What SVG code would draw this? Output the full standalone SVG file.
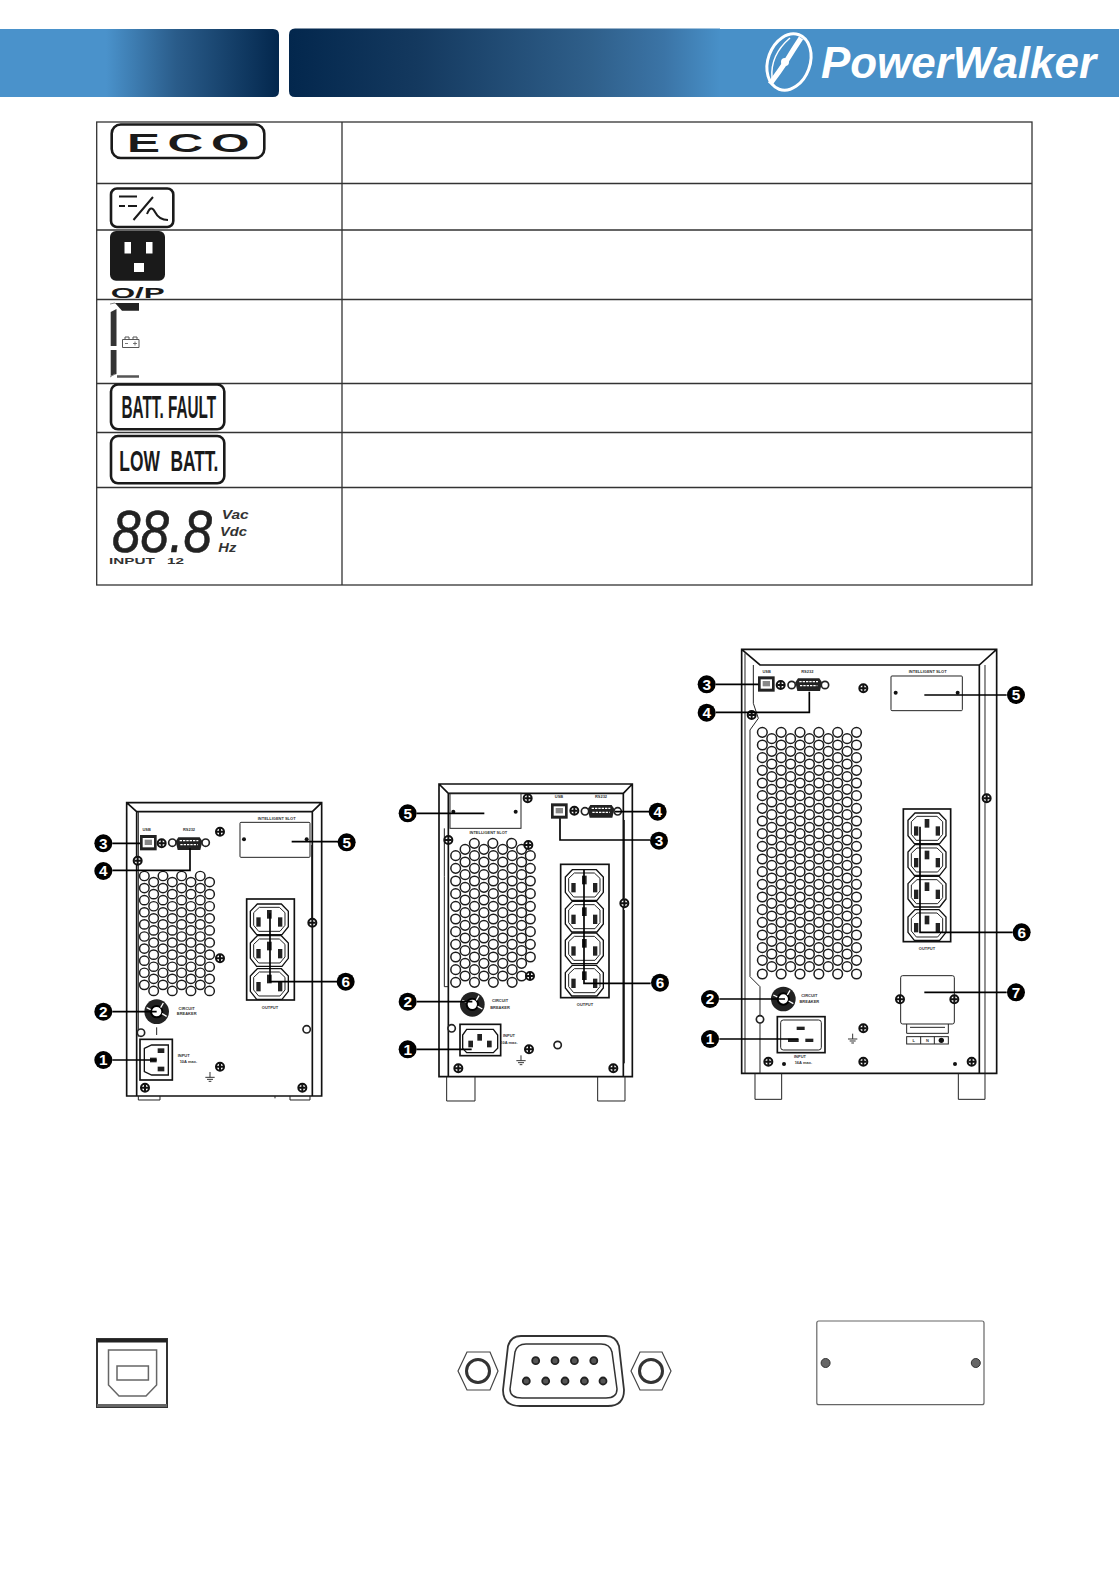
<svg xmlns="http://www.w3.org/2000/svg" width="1119" height="1588" viewBox="0 0 1119 1588">
<style>
text{font-family:"Liberation Sans",Arial,sans-serif}
.tl{fill:none;stroke:#333;stroke-width:1.300}
.bd{fill:#fff;stroke:#1a1a1a;stroke-width:2.600}
.bt{font-weight:700;fill:#1a1a1a}
.o{fill:none;stroke:#111;stroke-width:5}
.i{fill:none;stroke:#222;stroke-width:3}
.w{fill:#fff;stroke:#111;stroke-width:4}
.ld{fill:none;stroke:#000;stroke-width:5}
.mk{fill:#000}
.mt{fill:#fff;font-weight:700;font-size:46px;text-anchor:middle}
.lb{fill:#333;font-size:12px;font-weight:700;text-anchor:middle}
.p{fill:#222}
.v{fill:#fff;stroke:#1c1c1c;stroke-width:4.500}
</style>
<defs>
<linearGradient id="gL" gradientUnits="userSpaceOnUse" x1="0" y1="0" x2="279" y2="0"><stop offset="0" stop-color="#4a92cb"/><stop offset=".38" stop-color="#4a92cb"/><stop offset=".63" stop-color="#2a5c8a"/><stop offset="1" stop-color="#03274d"/></linearGradient>
<linearGradient id="gR" gradientUnits="userSpaceOnUse" x1="289" y1="0" x2="720" y2="0"><stop offset="0" stop-color="#03274d"/><stop offset=".3" stop-color="#14395f"/><stop offset=".7" stop-color="#2f5f8a"/><stop offset=".87" stop-color="#3b74a6"/><stop offset="1" stop-color="#4890c8"/></linearGradient>
<g id="vp"><circle class="v" r="14.500"/><circle class="v" cx="28.250" cy="19" r="14.500"/></g>
<g id="vr4"><use href="#vp"/><use href="#vp" x="56.500"/><use href="#vp" x="113"/><use href="#vp" x="169.500"/></g>
<g id="vr5"><use href="#vr4"/><use href="#vp" x="226"/><circle class="v" cx="282.500" r="14.500"/></g>
<g id="outlet">
<path class="w" d="M-36-46H36L57-24V22L38 46H-38L-57 22V-24Z" stroke-width="6"/>
<path class="i" d="M-30-36H30L47-20V18L32 36H-32L-47 18V-20Z" stroke-width="4"/>
<rect class="p" x="-39" y="-6" width="13" height="28"/><rect class="p" x="26" y="-6" width="13" height="28"/><rect class="p" x="-7" y="-28" width="14" height="26"/>
</g>
<g id="screw"><circle r="12" fill="#fff" stroke="#111" stroke-width="6"/><path d="M-10 0H10M0-10V10" stroke="#111" stroke-width="6"/></g>
<g id="sm"><circle r="6" fill="#111"/></g>
<g id="ring"><circle r="11" fill="#fff" stroke="#222" stroke-width="5"/></g>
<g id="brk"><circle r="37" fill="#222"/><circle r="17" fill="#fff" stroke="#000" stroke-width="6"/><path d="M-30-12L-18-6M20-26L12-12M30 14L16 6" stroke="#fff" stroke-width="4"/></g>
<g id="gnd"><path d="M0-14V2M-14 2H14M-9 8H9M-4 14H4" stroke="#333" stroke-width="3" fill="none"/></g>
<g id="usbS"><rect width="50" height="46" fill="#222"/><rect x="8" y="9" width="34" height="28" fill="#fff"/><path d="M14 14H36V30H14Z" fill="#888"/></g>
<g id="dsubP"><path d="M8 0H72L80 12L74 38H6L0 12Z" fill="#222"/><path d="M12 10H68M14 22H66" stroke="#fff" stroke-width="4" stroke-dasharray="7 3"/></g>
</defs>

<g id="header">
<path d="M0 29H273Q279 29 279 35V91Q279 97 273 97H0Z" fill="url(#gL)"/>
<path d="M295 28.500H720V97H295Q289 97 289 91V35Q289 28.500 295 28.500Z" fill="url(#gR)"/>
<rect x="719.500" y="29" width="399.500" height="68" fill="#4890c8"/>
<g id="logo" fill="none" stroke="#fff">
<ellipse cx="789" cy="62" rx="21" ry="29" transform="rotate(20 789 62)" stroke-width="3"/>
<path d="M772 78Q770 55 790 38" stroke-width="1.500"/>
<path d="M801 38Q793 50 787 60Q779 72 770 84" stroke-width="5"/>
<circle cx="785" cy="62" r="4" fill="#fff" stroke="none"/>
</g>
<text x="821" y="78" font-size="44" font-weight="700" font-style="italic" fill="#fff" textLength="275" lengthAdjust="spacingAndGlyphs">PowerWalker</text>
</g>

<g id="table">
<rect class="tl" x="96.700" y="122" width="935.300" height="463"/>
<path class="tl" d="M342 122V585M96.700 183.500H1032M96.700 230H1032M96.700 299.500H1032M96.700 383.500H1032M96.700 432.500H1032M96.700 487.500H1032"/>
</g>

<g id="icon-eco">
<rect class="bd" x="111.700" y="124.500" width="152.600" height="33.500" rx="9" stroke-width="3.200"/>
<text class="bt" x="127" y="152" font-size="26" letter-spacing="4" textLength="130" lengthAdjust="spacingAndGlyphs">ECO</text>
</g>
<g id="icon-inverter">
<rect class="bd" x="111" y="188.500" width="62.300" height="38.500" rx="6"/>
<path d="M119 196.500H137M119 206H125M128 206H137M133.500 220L153 197" fill="none" stroke="#1a1a1a" stroke-width="2"/>
<path d="M147 214Q151 204 155 212T168 220" fill="none" stroke="#1a1a1a" stroke-width="2"/>
</g>
<g id="icon-output">
<rect x="110" y="231" width="55" height="49.700" rx="6" fill="#1a1a1a"/>
<rect x="124.500" y="242" width="6.500" height="11.500" fill="#fff"/><rect x="146" y="242" width="6.500" height="11.500" fill="#fff"/><rect x="134" y="263" width="10" height="9" fill="#fff"/>
<text class="bt" x="110.700" y="297.700" font-size="15.500" textLength="54" lengthAdjust="spacingAndGlyphs">O/P</text>
</g>
<g id="icon-battery">
<path d="M115 303H139V310.700H122Z" fill="#222"/>
<path d="M110.700 312L116.500 309V346H110.700ZM110.700 350H116.500V374L110.700 376Z" fill="#333"/>
<path d="M117 376.500H139" stroke="#555" stroke-width="2.500"/>
<path d="M110 304L115 303M110 377L115 374" stroke="#888" stroke-width="1"/>
<path d="M122.500 339.500H139V347.500H122.500ZM125 339.500V337H129V339.500M133 339.500V337H137V339.500" fill="none" stroke="#555" stroke-width="1"/>
<path d="M125 343.500H128M133 343.500H137M135 341.500V345.500" stroke="#555" stroke-width=".8"/>
</g>
<g id="icon-batt-fault">
<rect class="bd" x="111" y="384.500" width="113.300" height="44.800" rx="7"/>
<text class="bt" x="121.500" y="417.700" font-size="31" textLength="94.500" lengthAdjust="spacingAndGlyphs">BATT. FAULT</text>
</g>
<g id="icon-low-batt">
<rect class="bd" x="111" y="436" width="113.300" height="47.300" rx="7"/>
<text class="bt" x="119.300" y="470.700" font-size="30" word-spacing="10" textLength="99" lengthAdjust="spacingAndGlyphs">LOW BATT.</text>
</g>
<g id="icon-display">
<text x="112" y="551.700" font-size="60" font-style="italic" fill="#222" stroke="#222" stroke-width=".6" textLength="100" lengthAdjust="spacingAndGlyphs">88.8</text>
<g font-size="12.500" font-weight="700" font-style="italic" fill="#333">
<text x="221.700" y="519" textLength="27" lengthAdjust="spacingAndGlyphs">Vac</text><text x="220" y="535.500" textLength="27" lengthAdjust="spacingAndGlyphs">Vdc</text><text x="218.300" y="551.700" textLength="18" lengthAdjust="spacingAndGlyphs">Hz</text>
</g>
<text x="109" y="564.300" font-size="9.500" font-weight="700" fill="#333" word-spacing="5" textLength="75" lengthAdjust="spacingAndGlyphs">INPUT 12</text>
</g>

<g id="ups-small" transform="translate(85 790) scale(.33333)">
<path class="o" d="M125 38H710V918H125ZM125 38L155 65H682L710 38M155 65V918M682 65V918"/>
<path class="i" d="M160 65V245M160 245V740M680 165V390"/>
<path d="M160 918V930H225V918M570 918V925M615 918V930H675V918" class="i"/>
<g transform="translate(178 258) scale(.99 .955)">
<use href="#vr4"/><use href="#vr4" y="38"/><use href="#vr4" y="76"/><use href="#vr4" y="114"/><use href="#vr4" y="152"/><use href="#vr4" y="190"/><use href="#vr4" y="228"/><use href="#vr4" y="266"/><use href="#vr4" y="304"/><use href="#vr4" y="342"/>
</g>
<use href="#usbS" x="165" y="135"/>
<text class="lb" x="185" y="122">USB</text>
<use href="#dsubP" x="272" y="142"/>
<text class="lb" x="312" y="122">RS232</text>
<use href="#ring" x="262" y="158"/><use href="#ring" x="362" y="158"/>
<use href="#screw" x="230" y="160"/><use href="#screw" x="405" y="125"/><use href="#screw" x="158" y="212"/>
<use href="#screw" x="682" y="398"/><use href="#screw" x="405" y="505"/><use href="#screw" x="180" y="893"/><use href="#screw" x="652" y="893"/><use href="#screw" x="405" y="830"/>
<use href="#ring" x="665" y="718"/><use href="#ring" x="168" y="728"/>
<rect class="i" x="465" y="97" width="210" height="105" rx="3"/>
<text class="lb" x="575" y="90">INTELLIGENT SLOT</text>
<use href="#sm" x="477" y="148"/><use href="#sm" x="665" y="148"/>
<rect class="o" x="485" y="327" width="143" height="303"/>
<use href="#outlet" x="553" y="388"/><use href="#outlet" x="553" y="483"/><use href="#outlet" x="553" y="582"/>
<text class="lb" x="555" y="658">OUTPUT</text>
<use href="#brk" x="215" y="665"/>
<path d="M215 712V735" stroke="#222" stroke-width="3"/>
<text class="lb" x="305" y="660">CIRCUIT</text><text class="lb" x="305" y="676">BREAKER</text>
<rect class="o" x="165" y="748" width="97" height="122"/>
<path class="w" d="M178 775L200 765H250V855H200L178 845Z"/>
<rect class="p" x="218" y="775" width="20" height="14"/><rect class="p" x="218" y="830" width="20" height="14"/><rect class="p" x="195" y="803" width="20" height="14"/>
<text class="lb" x="296" y="802">INPUT</text><text class="lb" x="310" y="818">10A max.</text>
<use href="#gnd" x="375" y="860"/>
</g>

<g id="ups-medium" transform="translate(385 770) scale(.33333)">
<path class="o" d="M162 42H742V920H162ZM162 42L190 70H715L742 42M190 70V920M715 70V920"/>
<path class="i" d="M178 175V320M178 320V650H190M718 150V385M718 420V880"/>
<path class="i" d="M185 920V993H270V920M638 920V993H720V920"/>
<g transform="translate(212 257)">
<circle class="v" cx="56" cy="-37" r="14.500"/><circle class="v" cx="111.500" cy="-37" r="14.500"/><circle class="v" cx="168" cy="-37" r="14.500"/>
<circle class="v" cx="28.250" cy="-19" r="14.500"/><circle class="v" cx="84.750" cy="-19" r="14.500"/><circle class="v" cx="141.250" cy="-19" r="14.500"/><circle class="v" cx="197.750" cy="-19" r="14.500"/>
<use href="#vr4"/><use href="#vr4" y="38"/><use href="#vr4" y="76"/><use href="#vr4" y="114"/><use href="#vr4" y="152"/><use href="#vr4" y="190"/><use href="#vr4" y="228"/><use href="#vr4" y="266"/><use href="#vr4" y="304"/><use href="#vr4" y="342"/>
<circle class="v" cx="224" r="14.500"/><circle class="v" cx="224" cy="38" r="14.500"/><circle class="v" cx="224" cy="76" r="14.500"/><circle class="v" cx="224" cy="114" r="14.500"/><circle class="v" cx="224" cy="152" r="14.500"/><circle class="v" cx="224" cy="190" r="14.500"/><circle class="v" cx="224" cy="228" r="14.500"/><circle class="v" cx="224" cy="266" r="14.500"/><circle class="v" cx="224" cy="304" r="14.500"/><circle class="v" cx="0" cy="380" r="14.500"/><circle class="v" cx="56.500" cy="380" r="14.500"/><circle class="v" cx="113" cy="380" r="14.500"/><circle class="v" cx="169.500" cy="380" r="14.500"/>
</g>
<rect class="i" x="195" y="70" width="213" height="105" fill="#fff"/>
<use href="#sm" x="205" y="125"/><use href="#sm" x="392" y="125"/>
<text class="lb" x="310" y="192">INTELLIGENT SLOT</text>
<use href="#usbS" x="498" y="100"/>
<text class="lb" x="522" y="85">USB</text>
<use href="#dsubP" x="608" y="105"/>
<text class="lb" x="648" y="85">RS232</text>
<use href="#screw" x="568" y="122"/><use href="#ring" x="600" y="124"/><use href="#ring" x="698" y="124"/>
<use href="#screw" x="428" y="85"/><use href="#screw" x="190" y="210"/><use href="#screw" x="430" y="225"/><use href="#screw" x="435" y="618"/>
<use href="#screw" x="718" y="400"/><use href="#screw" x="432" y="838"/><use href="#screw" x="220" y="895"/><use href="#screw" x="685" y="895"/>
<use href="#ring" x="200" y="775"/><use href="#ring" x="518" y="825"/>
<rect class="o" x="527" y="283" width="145" height="400"/>
<use href="#outlet" x="598" y="345"/><use href="#outlet" x="598" y="440"/><use href="#outlet" x="598" y="535"/><use href="#outlet" x="598" y="632"/>
<text class="lb" x="600" y="708">OUTPUT</text>
<use href="#brk" x="262" y="703"/>
<text class="lb" x="345" y="697">CIRCUIT</text><text class="lb" x="345" y="716">BREAKER</text>
<rect class="o" x="225" y="763" width="122" height="94"/>
<path class="w" d="M245 778H325L338 795V835L325 848H245L233 835V795Z"/>
<rect class="p" x="277" y="792" width="14" height="20"/><rect class="p" x="250" y="812" width="14" height="20"/><rect class="p" x="306" y="812" width="14" height="20"/>
<text class="lb" x="372" y="802">INPUT</text><text class="lb" x="372" y="822">10A max.</text>
<use href="#gnd" x="408" y="870"/>
</g>

<g id="ups-large" transform="translate(690 640) scale(.33333)">
<path class="o" d="M155 28H920V1300H155ZM155 28L210 75H868L920 28M868 75V1300"/>
<path class="i" d="M165 40V1300M190 75V190L205 235L180 270V1010L210 1040V1300M885 75V1300"/>
<path class="i" d="M195 1300V1378H275V1300M805 1300V1378H885V1300"/>
<g transform="translate(217 277)">
<use href="#vr5"/><use href="#vr5" y="38"/><use href="#vr5" y="76"/><use href="#vr5" y="114"/><use href="#vr5" y="152"/><use href="#vr5" y="190"/><use href="#vr5" y="228"/><use href="#vr5" y="266"/><use href="#vr5" y="304"/><use href="#vr5" y="342"/><use href="#vr5" y="380"/><use href="#vr5" y="418"/><use href="#vr5" y="456"/><use href="#vr5" y="494"/><use href="#vr5" y="532"/><use href="#vr5" y="570"/><use href="#vr5" y="608"/><use href="#vr5" y="646"/><use href="#vr5" y="684"/>
<circle class="v" cy="725" r="14.500"/><circle class="v" cx="56.500" cy="725" r="14.500"/><circle class="v" cx="113" cy="725" r="14.500"/><circle class="v" cx="169.500" cy="725" r="14.500"/><circle class="v" cx="226" cy="725" r="14.500"/><circle class="v" cx="282.500" cy="725" r="14.500"/>
</g>
<use href="#usbS" x="204" y="109"/>
<text class="lb" x="230" y="100">USB</text>
<use href="#dsubP" x="316" y="115"/>
<text class="lb" x="352" y="100">RS232</text>
<use href="#screw" x="272" y="135"/><use href="#ring" x="305" y="135"/><use href="#ring" x="405" y="135"/>
<use href="#screw" x="520" y="145"/><use href="#screw" x="185" y="225"/><use href="#screw" x="890" y="475"/><use href="#screw" x="520" y="1265"/><use href="#screw" x="235" y="1265"/><use href="#screw" x="845" y="1265"/><use href="#screw" x="520" y="1165"/>
<use href="#sm" x="282" y="1272"/><use href="#sm" x="795" y="1272"/><use href="#ring" x="210" y="1138"/>
<rect class="i" x="603" y="108" width="214" height="104" rx="3"/>
<text class="lb" x="713" y="100">INTELLIGENT SLOT</text>
<use href="#sm" x="617" y="158"/><use href="#sm" x="803" y="158"/>
<rect class="o" x="640" y="507" width="142" height="398"/>
<use href="#outlet" x="711" y="565"/><use href="#outlet" x="711" y="660"/><use href="#outlet" x="711" y="755"/><use href="#outlet" x="711" y="855"/>
<text class="lb" x="711" y="930">OUTPUT</text>
<rect class="i" x="632" y="1007" width="161" height="145" rx="6" fill="#fff"/>
<use href="#screw" x="630" y="1078"/><use href="#screw" x="793" y="1078"/>
<path class="i" d="M650 1152V1180H775V1152M660 1162H765"/>
<rect class="i" x="650" y="1190" width="125" height="22"/>
<path class="i" d="M692 1190V1212M733 1190V1212"/>
<text class="lb" x="671" y="1206">L</text><text class="lb" x="712" y="1206">N</text><circle cx="754" cy="1201" r="8" fill="#111"/>
<use href="#brk" x="280" y="1077"/>
<text class="lb" x="358" y="1072">CIRCUIT</text><text class="lb" x="358" y="1089">BREAKER</text>
<rect class="o" x="262" y="1130" width="143" height="108"/>
<rect class="i" x="272" y="1140" width="122" height="90" rx="8" fill="#fff"/>
<rect class="p" x="320" y="1160" width="24" height="10"/><rect class="p" x="294" y="1196" width="32" height="10"/><rect class="p" x="346" y="1196" width="24" height="10"/>
<text class="lb" x="330" y="1255">INPUT</text><text class="lb" x="340" y="1272">16A max.</text>
<use href="#gnd" x="488" y="1195"/>
</g>

<g id="connectors">
<g transform="translate(85 790) scale(.33333)">
<path class="ld" d="M82 160H165M82 241H315V175M620 155H760M555 370V575H760M82 665H215M82 810H215"/>
</g>
<g transform="translate(385 770) scale(.33333)">
<path class="ld" d="M95 130H298M690 125H795M525 145V210H795M597 300V640H797M95 695H262M95 838H260"/>
</g>
<g transform="translate(690 640) scale(.33333)">
<path class="ld" d="M77 133H205M77 217H358V155M703 165H950M690 560V877H968M703 1057H950M88 1077H285M88 1197H325"/>
</g>
</g>

<g id="markers-small" transform="translate(85 790) scale(.33333)">
<circle class="mk" cx="55" cy="160" r="27"/><text class="mt" x="55" y="176">3</text>
<circle class="mk" cx="55" cy="243" r="27"/><text class="mt" x="55" y="259">4</text>
<circle class="mk" cx="785" cy="157" r="27"/><text class="mt" x="785" y="173">5</text>
<circle class="mk" cx="782" cy="575" r="27"/><text class="mt" x="782" y="591">6</text>
<circle class="mk" cx="55" cy="665" r="27"/><text class="mt" x="55" y="681">2</text>
<circle class="mk" cx="55" cy="810" r="27"/><text class="mt" x="55" y="826">1</text>
</g>
<g id="markers-medium" transform="translate(385 770) scale(.33333)">
<circle class="mk" cx="68" cy="130" r="27"/><text class="mt" x="68" y="146">5</text>
<circle class="mk" cx="818" cy="125" r="27"/><text class="mt" x="818" y="141">4</text>
<circle class="mk" cx="822" cy="212" r="27"/><text class="mt" x="822" y="228">3</text>
<circle class="mk" cx="825" cy="638" r="27"/><text class="mt" x="825" y="654">6</text>
<circle class="mk" cx="68" cy="695" r="27"/><text class="mt" x="68" y="711">2</text>
<circle class="mk" cx="68" cy="838" r="27"/><text class="mt" x="68" y="854">1</text>
</g>
<g id="markers-large" transform="translate(690 640) scale(.33333)">
<circle class="mk" cx="50" cy="133" r="27"/><text class="mt" x="50" y="149">3</text>
<circle class="mk" cx="50" cy="218" r="27"/><text class="mt" x="50" y="234">4</text>
<circle class="mk" cx="978" cy="165" r="27"/><text class="mt" x="978" y="181">5</text>
<circle class="mk" cx="995" cy="877" r="27"/><text class="mt" x="995" y="893">6</text>
<circle class="mk" cx="978" cy="1057" r="27"/><text class="mt" x="978" y="1073">7</text>
<circle class="mk" cx="60" cy="1077" r="27"/><text class="mt" x="60" y="1093">2</text>
<circle class="mk" cx="60" cy="1197" r="27"/><text class="mt" x="60" y="1213">1</text>
</g>

<g id="usb-port">
<rect x="97" y="1339" width="70" height="68" fill="#fff" stroke="#333" stroke-width="2"/>
<rect x="97" y="1339" width="70" height="3.500" fill="#222"/><rect x="97" y="1404" width="70" height="3" fill="#666"/>
<path d="M108.500 1350H156.600V1385L146 1396H119L108.500 1385Z" fill="#fff" stroke="#666" stroke-width="1.500"/>
<rect x="117" y="1366" width="31.400" height="14" fill="#fff" stroke="#666" stroke-width="1.500"/>
</g>
<g id="serial-port">
<g fill="#fff" stroke="#444" stroke-width="1.200">
<path d="M467 1352H490L498 1371L490 1390H467L458 1371Z"/>
<path d="M640 1352H662L671 1371L662 1390H640L631 1371Z"/>
</g>
<circle cx="478" cy="1371" r="11.500" fill="none" stroke="#333" stroke-width="3"/>
<circle cx="651" cy="1371" r="11.500" fill="none" stroke="#333" stroke-width="3"/>
<path d="M521 1336H606Q616 1336 619 1346L624 1390Q624 1406 608 1406H520Q503 1406 503 1390L508 1346Q511 1336 521 1336Z" fill="#fff" stroke="#333" stroke-width="1.800"/>
<path d="M526 1344H601Q610 1344 612 1352L617 1389Q617 1398 606 1398H522Q510 1398 510 1389L515 1352Q517 1344 526 1344Z" fill="none" stroke="#333" stroke-width="1.500"/>
<g fill="#555" stroke="#222" stroke-width="1.800">
<circle cx="535.700" cy="1360.700" r="3.500"/><circle cx="555" cy="1360.700" r="3.500"/><circle cx="574.400" cy="1360.700" r="3.500"/><circle cx="593.800" cy="1360.700" r="3.500"/>
<circle cx="526.300" cy="1381" r="3.500"/><circle cx="545.700" cy="1381" r="3.500"/><circle cx="565" cy="1381" r="3.500"/><circle cx="584.400" cy="1381" r="3.500"/><circle cx="603" cy="1381" r="3.500"/>
</g>
</g>
<g id="slot-plate">
<rect x="816.800" y="1321" width="167.200" height="83.700" rx="2" fill="#fff" stroke="#666" stroke-width="1.200"/>
<circle cx="825.600" cy="1363" r="4.500" fill="#666" stroke="#333"/><circle cx="975.800" cy="1363" r="4.500" fill="#666" stroke="#333"/>
</g>
</svg>
